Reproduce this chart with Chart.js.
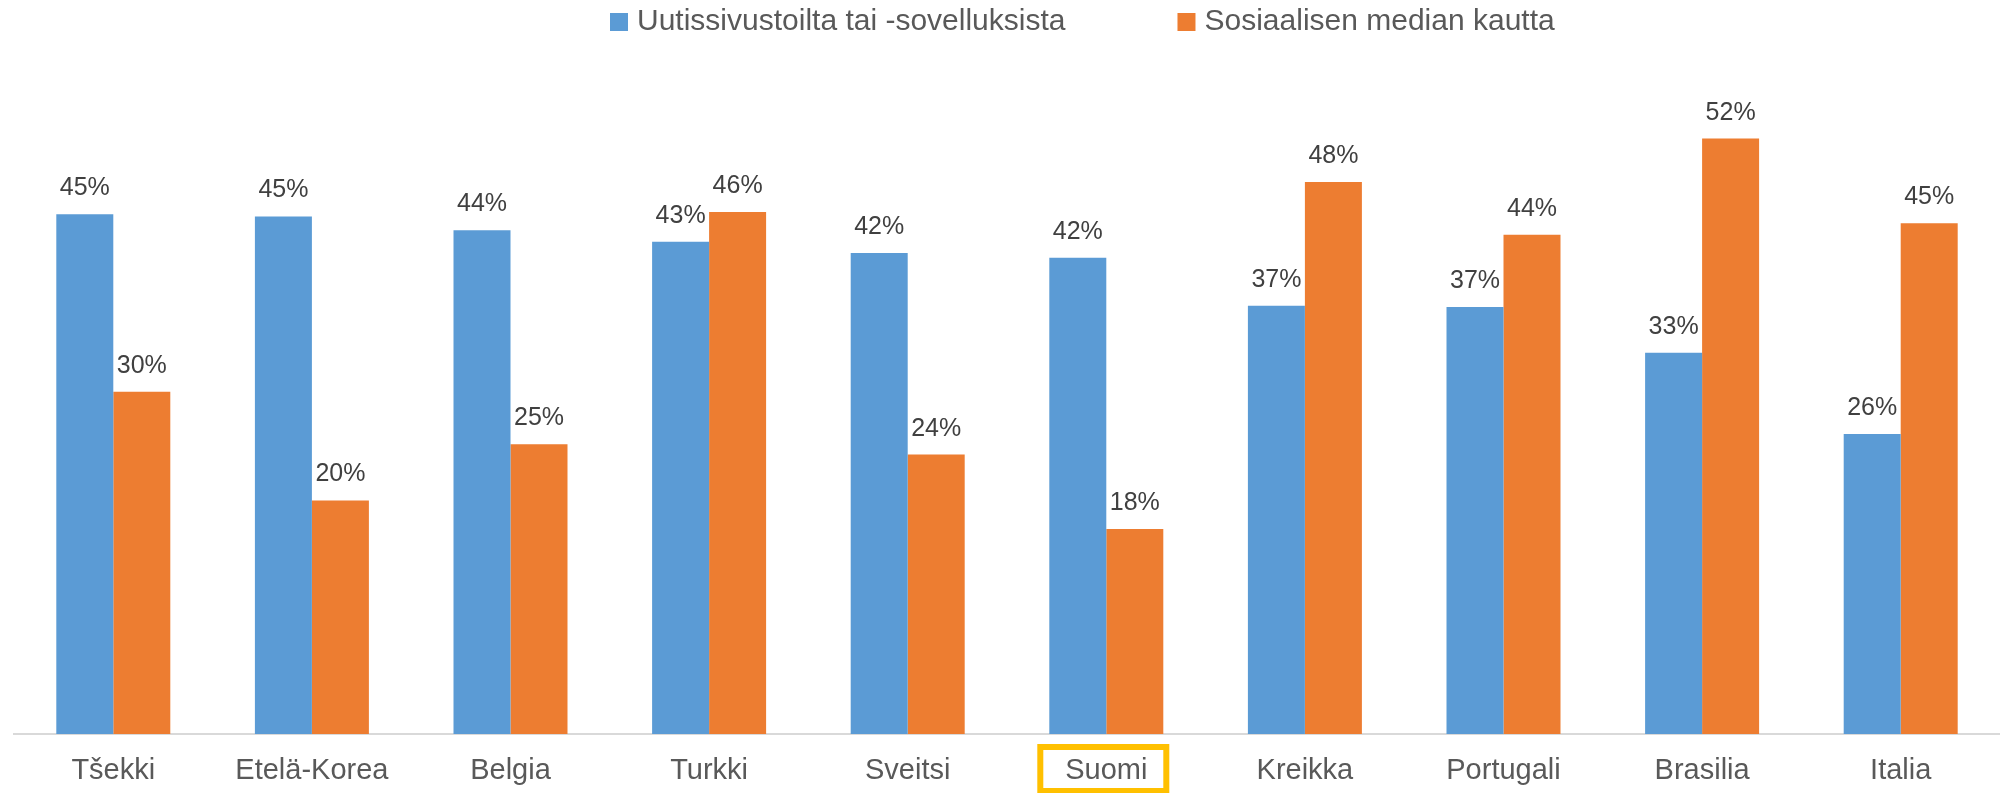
<!doctype html>
<html>

<head>
    <meta charset="utf-8">
    <title>Uutiset</title>
    <script src="https://cdn.jsdelivr.net/npm/chart.js"></script>
    <style>
        body { margin: 0; background: #fff; }
    </style>
</head>

<body>
    <canvas id="uutiset" width="2000" height="793"></canvas>

    <script>
    const maat = ['Tšekki', 'Etelä-Korea', 'Belgia', 'Turkki', 'Sveitsi', 'Suomi', 'Kreikka', 'Portugali', 'Brasilia', 'Italia'];
    const uutissivut = [45.4, 45.2, 44.0, 43.0, 42.0, 41.6, 37.4, 37.3, 33.3, 26.2];
    const someKautta = [29.9, 20.4, 25.3, 45.6, 24.4, 17.9, 48.2, 43.6, 52.0, 44.6];
    const sarjat = ['Uutissivustoilta tai -sovelluksista', 'Sosiaalisen median kautta'];
    const korostettu = 'Suomi';

    const SININEN = '#5B9BD5';
    const ORANSSI = '#ED7D31';
    const FONTTI = '"Liberation Sans", Arial, sans-serif';

    // prosentit palkkien ylle
    const arvot = {
        id: 'arvot',
        afterDatasetsDraw(chart) {
            const ctx = chart.ctx;
            ctx.save();
            ctx.font = '25px ' + FONTTI;
            ctx.fillStyle = '#404040';
            ctx.textAlign = 'center';
            ctx.textBaseline = 'alphabetic';
            chart.data.datasets.forEach((ds, i) => {
                chart.getDatasetMeta(i).data.forEach((bar, j) => {
                    ctx.fillText(Math.round(ds.data[j]) + '%', bar.x, bar.y - 19);
                });
            });
            ctx.restore();
        }
    };

    // selite ylös
    const selite = {
        id: 'selite',
        afterDraw(chart) {
            const ctx = chart.ctx;
            ctx.save();
            ctx.font = '30px ' + FONTTI;
            ctx.textBaseline = 'middle';
            let x = 610;
            const y = 22;
            chart.data.datasets.forEach((ds) => {
                ctx.fillStyle = ds.backgroundColor;
                ctx.fillRect(x, y - 9, 18, 18);
                x += 27;
                ctx.fillStyle = '#595959';
                ctx.fillText(ds.label, x, y);
                x += ctx.measureText(ds.label).width + 112;
            });
            ctx.restore();
        }
    };

    // keltainen laatikko Suomen ympärille
    const korostus = {
        id: 'korostus',
        afterDraw(chart) {
            const i = chart.data.labels.indexOf(korostettu);
            if (i < 0) return;
            const xs = chart.scales.x;
            const cx = xs.getPixelForValue(i) - 3;
            const ctx = chart.ctx;
            ctx.save();
            ctx.strokeStyle = '#FFC000';
            ctx.lineWidth = 6;
            ctx.strokeRect(cx - 63, xs.top + 13, 126, 44);
            ctx.restore();
        }
    };

    var kaavio = new Chart(document.getElementById('uutiset').getContext('2d'), {
        type: 'bar',
        data: {
            labels: maat,
            datasets: [{
                label: sarjat[0],
                data: uutissivut,
                backgroundColor: SININEN
            },
            {
                label: sarjat[1],
                data: someKautta,
                backgroundColor: ORANSSI
            }]
        },
        options: {
            responsive: false,
            animation: false,
            layout: {
                padding: { top: 47, left: 14, right: 0, bottom: 0 }
            },
            datasets: {
                bar: {
                    categoryPercentage: 0.574,
                    barPercentage: 1
                }
            },
            plugins: {
                legend: { display: false },
                tooltip: { enabled: false }
            },
            scales: {
                x: {
                    grid: { display: false, drawTicks: false },
                    border: { display: true, color: '#D9D9D9', width: 2 },
                    ticks: {
                        color: '#595959',
                        padding: 20,
                        font: { family: FONTTI, size: 29 }
                    },
                    afterFit(s) { s.height = 59; }
                },
                y: {
                    display: false,
                    min: 0,
                    max: 60
                }
            }
        },
        plugins: [arvot, selite, korostus]
    });
    </script>
</body>

</html>
